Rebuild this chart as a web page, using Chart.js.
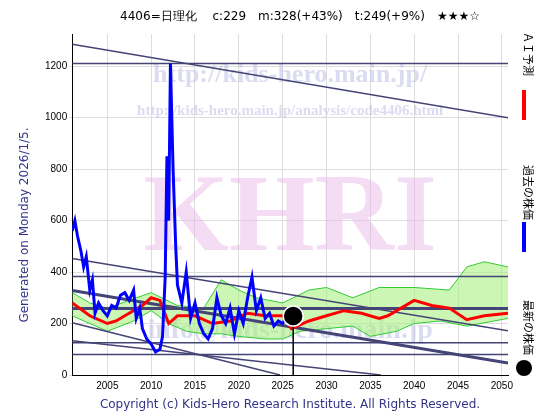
<!DOCTYPE html>
<html><head><meta charset="utf-8">
<script src="https://cdn.jsdelivr.net/npm/chart.js"></script>
<style>body{margin:0;background:#fff}#w{width:560px;height:420px}</style>
</head><body><div id="w"><canvas id="c" width="560" height="420"></canvas></div>
<script>
const blueX=[2001,2001.3,2001.6,2002,2002.3,2002.6,2003,2003.3,2003.6,2004,2004.5,2005,2005.5,2006,2006.5,2007,2007.5,2008,2008.3,2008.7,2009,2009.5,2010,2010.5,2011,2011.3,2011.6,2011.8,2012,2012.2,2012.5,2012.8,2013,2013.5,2014,2014.5,2015,2015.5,2016,2016.5,2017,2017.5,2018,2018.5,2019,2019.5,2020,2020.5,2021,2021.5,2022,2022.5,2023,2023.5,2024,2024.5,2025,2025.5];
const blueY=[560,600,540,480,420,460,330,370,240,280,250,230,270,260,310,320,290,330,220,260,180,140,120,90,100,150,380,850,600,1210,800,500,350,280,400,220,280,200,160,140,180,300,230,200,260,160,250,200,300,380,250,300,220,240,190,210,200,229];
const redX=[2001,2003,2005,2006,2007,2009,2010,2011,2012,2013,2015,2017,2019,2021,2023,2025,2026,2028,2030,2032,2034,2036,2037,2040,2042,2044,2046,2048,2050.7];
const redY=[280,230,200,210,230,270,300,290,200,230,230,200,210,240,230,230,180,210,230,250,240,220,230,290,270,260,215,230,240];
const upX=[2001,2003,2005,2010,2013,2016,2018,2020,2022,2025,2028,2030,2033,2036,2040,2044,2046,2048,2050.7];
const upY=[320,280,260,320,270,260,370,330,300,280,330,340,300,340,340,330,420,440,420];
const loX=[2001,2003,2005,2008,2010,2012,2014,2016,2018,2020,2023,2025,2027,2030,2033,2035,2038,2040,2043,2046,2050.7];
const loY=[230,200,170,210,250,200,170,160,160,150,140,140,170,180,190,150,170,200,210,190,220];
const hLines=[1210,383,258,125,80];
const diagLines=[[2001,1285,2050.7,1000],[2001,453,2050.7,172],[2001,328,2050.7,47],[2001,203,2024.7,0],[2001,133,2036.2,0]];
const current={x:2026.2,y:229};
const title='4406=日理化　 c:229　m:328(+43%)　t:249(+9%)　★★★☆';
const pts=(xs,ys)=>xs.map((x,i)=>({x,y:ys[i]}));
const ds=[];
ds.push({order:50,data:pts(upX,upY),borderColor:'#33cc33',borderWidth:1,backgroundColor:'rgba(170,240,130,0.6)',fill:'+1',pointRadius:0});
ds.push({order:49,data:pts(loX,loY),borderColor:'#33cc33',borderWidth:1,fill:false,pointRadius:0});
hLines.forEach((v,i)=>ds.push({order:20,data:[{x:2001,y:v},{x:2050.7,y:v}],borderColor:'#444477',borderWidth:i==2?3:1.5,pointRadius:0}));
diagLines.forEach((d,i)=>ds.push({order:20,data:[{x:d[0],y:d[1]},{x:d[2],y:d[3]}],borderColor:'#444477',borderWidth:i==2?3:1.5,pointRadius:0}));
ds.push({order:3,data:pts(redX,redY),borderColor:'#ff0000',borderWidth:3,pointRadius:0});
ds.push({order:2,data:pts(blueX,blueY),borderColor:'#0000ff',borderWidth:3,pointRadius:0});
ds.push({order:1,data:[{x:current.x,y:0},current],borderColor:'#000',borderWidth:1.5,pointRadius:[0,10],pointBackgroundColor:'#000',pointBorderColor:'#fff',pointBorderWidth:1.5});
const deco={id:'deco',beforeDatasetsDraw(ch){const c=ch.ctx,a=ch.chartArea;c.save();c.textAlign='center';
c.fillStyle='rgba(230,180,230,0.45)';c.font='bold 110px "Liberation Serif"';c.fillText('KHRI',(a.left+a.right)/2,250);
c.fillStyle='rgba(190,190,230,0.55)';c.font='bold 26px "Liberation Serif"';c.fillText('http://kids-hero.main.jp/',(a.left+a.right)/2,82);
c.font='bold 15px "Liberation Serif"';c.fillText('http://kids-hero.main.jp/analysis/code4406.html',(a.left+a.right)/2,115);
c.font='bold 28px "Liberation Serif"';c.fillText('info@kids-hero.main.jp',(a.left+a.right)/2,338);c.restore();},
afterDraw(ch){const c=ch.ctx;c.save();c.fillStyle='#000';c.font='12px "DejaVu Sans"';c.textAlign='center';c.fillText(title,300,20);
c.fillStyle='#333388';c.fillText('Copyright (c) Kids-Hero Research Institute. All Rights Reserved.',290,408);
c.save();c.translate(28,225);c.rotate(-Math.PI/2);c.fillText('Generated on Monday 2026/1/5.',0,0);c.restore();
c.save();c.translate(528,0);c.rotate(Math.PI/2);c.textAlign='left';c.fillStyle='#000';c.font='11px "Noto Sans CJK JP"';
c.fillText('ＡＩ予測',32,4);c.fillText('過去の株価',165,4);c.fillText('最新の株価',300,4);c.restore();
c.fillStyle='#ff0000';c.fillRect(522,90,4,30);c.fillStyle='#0000ff';c.fillRect(522,222,4,30);
c.fillStyle='#000';c.beginPath();c.arc(524,368,8,0,7);c.fill();c.restore();}};
new Chart(document.getElementById('c'),{type:'line',data:{datasets:ds},plugins:[deco],
options:{responsive:false,animation:false,layout:{padding:{left:43,right:52,top:34,bottom:26}},
plugins:{legend:{display:false},tooltip:{enabled:false}},
scales:{x:{type:'linear',min:2001,max:2050.7,ticks:{font:{size:10},color:'#000',padding:2,callback:v=>String(v)},afterBuildTicks:s=>{s.ticks=[2005,2010,2015,2020,2025,2030,2035,2040,2045,2050].map(v=>({value:v}))},grid:{color:'#ddd',tickLength:3},border:{color:'#000'}},
y:{min:0,max:1325,ticks:{font:{size:10},color:'#000',callback:v=>String(v),padding:2},afterBuildTicks:s=>{s.ticks=[0,200,400,600,800,1000,1200].map(v=>({value:v}))},grid:{color:'#ddd',tickLength:3},border:{color:'#000'}}}}});
</script></body></html>
